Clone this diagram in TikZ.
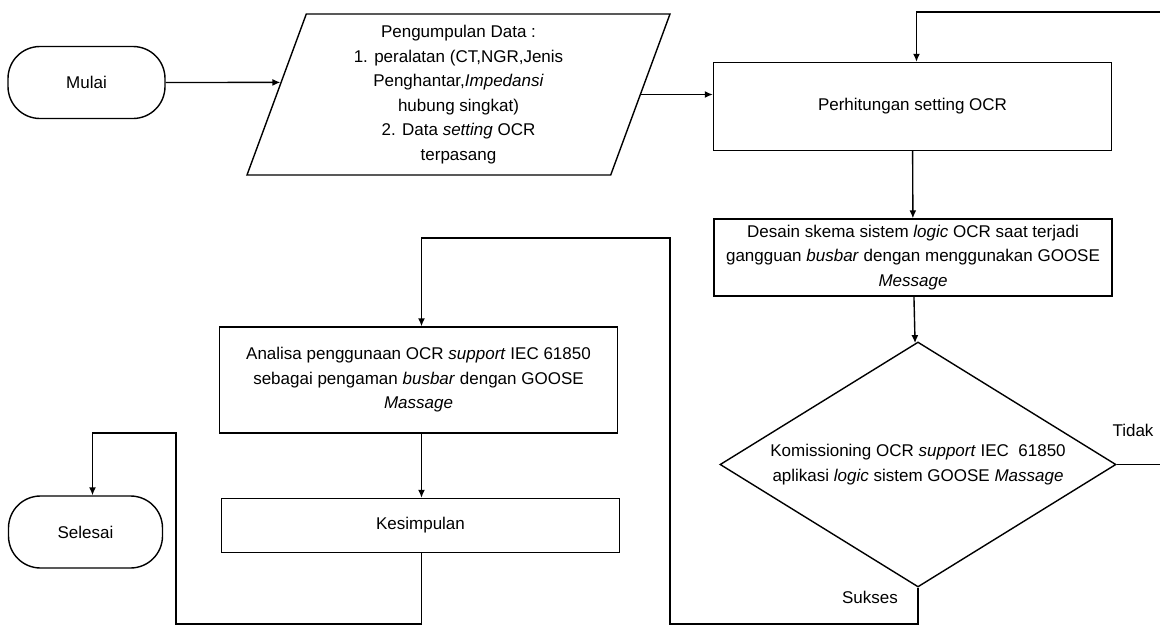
\documentclass[tikz,border=0pt]{standalone}
\usepackage{fontspec}
\setmainfont{Liberation Sans}
\usetikzlibrary{shapes.geometric,arrows.meta,calc}

\begin{document}
\begin{tikzpicture}[x=1pt,y=-1pt,font=\fontsize{17}{24.5}\selectfont]
	\tikzstyle{terminal}=[draw,line width=1.4pt,rounded corners=32pt,minimum width=157pt,minimum height=72pt]
	\tikzstyle{proses}=[draw,line width=1.4pt,minimum width=398pt,align=center]
	\tikzstyle{masukan}=[draw,line width=1.4pt,trapezium,trapezium left angle=66.8,trapezium right angle=113.2,trapezium stretches body=true,minimum width=423pt,minimum height=161pt,inner sep=0pt,align=center]
	\tikzstyle{keputusan}=[draw,line width=1.4pt,diamond,aspect=1.62,inner sep=0pt,minimum width=396pt,minimum height=245pt,align=center]
	\tikzstyle{edge}=[draw,line width=1.4pt,-{Latex[length=8pt,width=7pt]}]
	\useasboundingbox (0,0) rectangle (1160,627);
	\begin{scope}
		\node [terminal] (mulai) at (86.5,82.5) {Mulai};
		\node [masukan] (data) at (458.5,94.5) {Pengumpulan Data :\\1. peralatan (CT,NGR,Jenis\\Penghantar,\textit{Impedansi}\\hubung singkat)\\2. Data \textit{setting} OCR\\terpasang};
		\node [proses,minimum height=88pt] (hitung) at (912.5,106.5) {Perhitungan setting OCR};
		\node [proses,minimum height=77pt] (desain) at (913,257.5) {Desain skema sistem \textit{logic} OCR saat terjadi\\gangguan \textit{busbar} dengan menggunakan GOOSE\\\textit{Message}};
		\node [keputusan] (uji) at (918,464.5) {Komissioning OCR \textit{support} IEC~~61850\\aplikasi \textit{logic} sistem GOOSE \textit{Massage}};
		\node [proses,minimum height=106pt] (analisa) at (418.5,380) {Analisa penggunaan OCR \textit{support} IEC 61850\\sebagai pengaman \textit{busbar} dengan GOOSE\\\textit{Massage}};
		\node [proses,minimum height=54pt] (simpul) at (420.5,525.5) {Kesimpulan};
		\node [terminal,minimum width=154pt] (selesai) at (85.5,532) {Selesai};
		\node (tidak) at (1133,430) {Tidak};
		\node (sukses) at (870,597) {Sukses};
		\coordinate (kanan) at (1161,12);
		\coordinate (bawahA) at (670,624);
		\coordinate (atasA) at (670,238);
		\coordinate (bawahB) at (176,624);
		\coordinate (atasB) at (176,433);
		\path[edge] (mulai.east) -- ($(data.bottom left corner)!0.5745!(data.top left corner)$);
		\path[edge] ($(data.bottom right corner)!0.5!(data.top right corner)$) coordinate (keluar) -- (keluar -| hitung.west);
		\path[edge] (hitung) -- (desain);
		\path[edge] (desain) -- (uji);
		\path[edge] (uji.east) -| (kanan) -| ([xshift=4pt]hitung.north);
		\path[edge] (uji.south) |- (bawahA) -- (atasA) -| ([xshift=3pt]analisa.north);
		\path[edge] ([xshift=3pt]analisa.south) -- ([xshift=3pt]analisa.south |- simpul.north);
		\path[edge] ([xshift=1pt]simpul.south) |- (bawahB) -- (atasB) -| ([xshift=7pt]selesai.north);
	\end{scope}
\end{tikzpicture}
\end{document}
